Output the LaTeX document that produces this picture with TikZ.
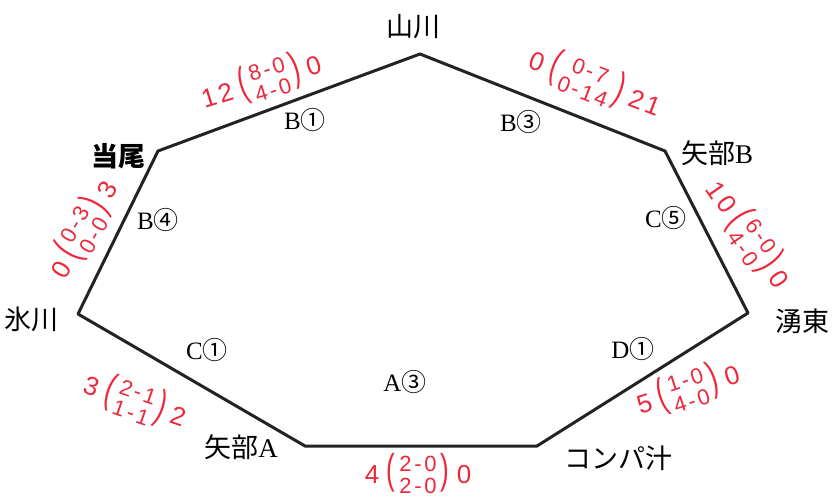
\documentclass[tikz,border=0pt]{standalone}
\usepackage{fontspec}
\usepackage{graphicx}
\setmainfont{Liberation Serif}
\newfontfamily\cjk{Noto Sans CJK JP}
\newfontfamily\hand[LetterSpace=12]{Liberation Sans}
\definecolor{penred}{RGB}{238,40,60}
\definecolor{edgecol}{RGB}{35,35,35}
\newcommand\stk[2]{\begin{tabular}{@{}c@{}}#1\\[0pt]#2\end{tabular}}
\newcommand\lpar{\scalebox{1}[1.6]{(}}
\newcommand\rpar{\scalebox{1}[1.6]{)}}
\newcommand\ann[4]{#1\;\lpar\,{\fontsize{22}{22}\selectfont\stk{#2}{#3}}\,\rpar\;#4}
\tikzset{
  edge/.style={draw=edgecol,line width=3pt,line join=round},
  seg/.style={font=\fontsize{25}{28}\selectfont,inner sep=0pt},
  place/.style={font=\cjk\fontsize{27}{30}\selectfont,inner sep=0pt},
  handlab/.style={font=\cjk\fontsize{27}{30}\selectfont,inner sep=0pt},
  redann/.style={text=penred,font=\hand\fontsize{26}{26}\selectfont,inner sep=0pt}
}
\begin{document}
\begin{tikzpicture}[x=1pt,y=-1pt]
\useasboundingbox[fill=white] (0,0) rectangle (835,497);
\coordinate (top) at (420,54);
\coordinate (yb) at (665,151);
\coordinate (ek) at (748,313);
\coordinate (kp) at (537,446);
\coordinate (ya) at (305,446);
\coordinate (hk) at (78,314);
\coordinate (to) at (158,151);
\draw[edge] (top) -- (yb) -- (ek) -- (kp) -- (ya) -- (hk) -- (to) -- cycle;
% segment labels
\node[seg] (b1) at (305,120) {B{\cjk ①}};
\node[seg] (b3) at (521,122) {B{\cjk ③}};
\node[seg] (b4) at (158,220) {B{\cjk ④}};
\node[seg] (c5) at (666,218) {C{\cjk ⑤}};
\node[seg] (c1) at (207,350) {C{\cjk ①}};
\node[seg] (a3) at (405,382) {A{\cjk ③}};
\node[seg] (d1) at (633,349) {D{\cjk ①}};
% place names
\node[place] (ltoo) at (118,156) {\bfseries 当尾};
\node[place] (lyb) at (717,153) {矢部{\rmfamily B}};
\node[place] (lya) at (241,447) {矢部{\rmfamily A}};
\node[handlab] (lyk) at (413,27) {山川};
\node[handlab] (lhk) at (32,319) {氷川};
\node[handlab] (lek) at (802,321) {湧東};
\node[handlab] (lkp) at (618,458) {コンパ汁};
% red annotations
\node[redann,rotate=17] (r1) at (262,84) {\ann{12}{8-0}{4-0}{0}};
\node[redann,rotate=-21] (r2) at (594,86) {\ann{0}{0-7}{0-14}{21}};
\node[redann,rotate=60] (r3) at (86,231) {\ann{0}{0-3}{0-0}{3}};
\node[redann,rotate=-55] (r4) at (746,236) {\ann{10}{6-0}{4-0}{0}};
\node[redann,rotate=-19] (r5) at (134,404) {\ann{3}{2-1}{1-1}{2}};
\node[redann] (r6) at (418,477) {\ann{4}{2-0}{2-0}{0}};
\node[redann,rotate=18] (r7) at (689,392) {\ann{5}{1-0}{4-0}{0}};
\end{tikzpicture}
\end{document}
